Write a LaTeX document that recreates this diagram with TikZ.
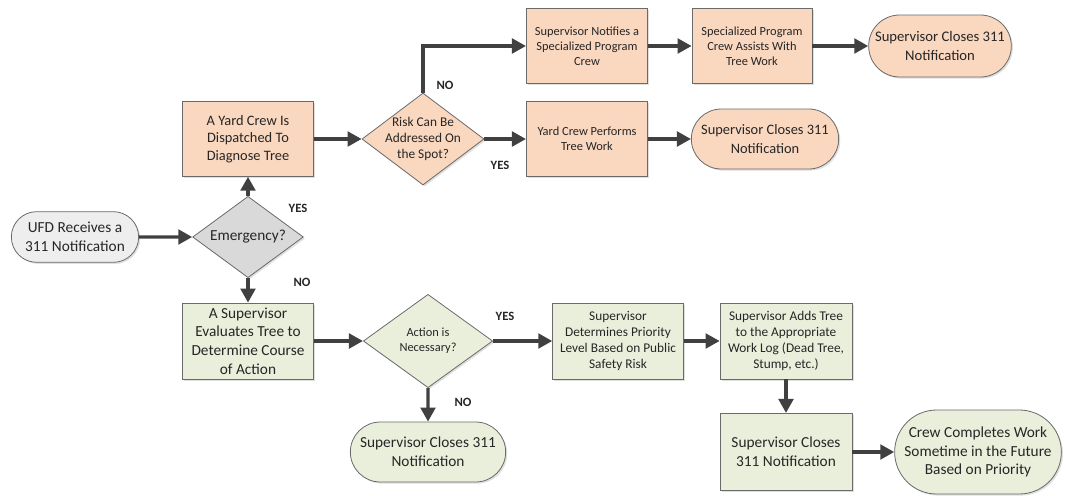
\documentclass[tikz,border=0pt]{standalone}
\usepackage{fontspec}
\setmainfont{Carlito}
\usetikzlibrary{shapes.geometric,shapes.misc,arrows.meta,shadows}

\definecolor{peach}{HTML}{FAD7BF}
\definecolor{sage}{HTML}{EAEFDC}
\definecolor{stone}{HTML}{D9D9D9}
\definecolor{pale}{HTML}{EEEEEE}
\definecolor{rim}{HTML}{6A6A6A}
\definecolor{ink}{HTML}{404040}

\newcommand{\fsm}{\fontsize{9.3}{11.3}\selectfont}
\newcommand{\fmd}{\fontsize{10}{12.2}\selectfont}
\newcommand{\flg}{\fontsize{11.5}{14}\selectfont}

\tikzset{
  base/.style={draw=rim, line width=0.6pt, align=center, inner sep=1pt, text=black!85,
    drop shadow={shadow xshift=1.2pt, shadow yshift=-1.2pt, opacity=0.25}},
  task/.style={base, rectangle, minimum width=98pt, minimum height=56pt},
  term/.style={base, rounded rectangle},
  choice/.style={base, diamond, inner sep=0pt},
  flow/.style={>={Triangle[length=10.5pt,width=11pt]}, line width=2.4pt, draw=ink},
  answer/.style={font=\bfseries\fontsize{9.5}{11}\selectfont, text=black!85}
}

\begin{document}
\begin{tikzpicture}[x=0.75pt,y=-0.75pt]
  \useasboundingbox (0,0) rectangle (1068,496);

  \node[term, fill=pale, minimum width=97.5pt, minimum height=38pt, font=\flg] (ufd) at (75,237)
    {UFD Receives a\\311 Notification};
  \node[choice, fill=stone, minimum width=83pt, minimum height=61pt,
    label={[font=\flg, text=black!85]center:Emergency?}] (emerg) at (248,237) {}
  edge[flow, <-] (ufd);

  % emergency branch
  \node[task, fill=peach, font=\fontsize{10.8}{13.2}\selectfont] (yard) at (248,139)
    {A Yard Crew Is\\Dispatched To\\Diagnose Tree}
  edge[flow, <-] (emerg);
  \node[choice, fill=peach, minimum width=91.5pt, minimum height=69pt,
    label={[font=\fmd, align=center, text=black!85]center:Risk Can Be\\Addressed On\\the Spot?}] (risk) at (423,139) {}
  edge[flow, <-] (yard);
  \node[task, fill=peach, minimum width=91pt, font=\fsm] (notify) at (587,46)
    {Supervisor Notifies a\\Specialized Program\\Crew};
  \draw[flow, ->] (risk.north) |- (notify.west);
  \node[task, fill=peach, minimum width=90pt, font=\fsm] (assist) at (752,46)
    {Specialized Program\\Crew Assists With\\Tree Work}
  edge[flow, <-] (notify);
  \node[term, fill=peach, minimum width=109pt, minimum height=46.5pt, font=\fontsize{11}{14.5}\selectfont] (closeA) at (940,46)
    {Supervisor Closes 311\\Notification}
  edge[flow, <-] (assist);
  \node[task, fill=peach, minimum width=91pt, font=\fsm] (perform) at (587,139)
    {Yard Crew Performs\\Tree Work}
  edge[flow, <-] (risk);
  \node[term, fill=peach, minimum width=112.5pt, minimum height=45pt, font=\fontsize{10.8}{14.5}\selectfont] (closeB) at (765,139)
    {Supervisor Closes 311\\Notification}
  edge[flow, <-] (perform);

  % routine branch
  \node[task, fill=sage, minimum height=57pt, font=\flg] (evaluate) at (248,341)
    {A Supervisor\\Evaluates Tree to\\Determine Course\\of Action}
  edge[flow, <-] (emerg);
  \node[choice, fill=sage, minimum width=97pt, minimum height=70pt,
    label={[font=\fsm, align=center, text=black!85]center:Action is\\Necessary?}] (action) at (428,341) {}
  edge[flow, <-] (evaluate);
  \node[term, fill=sage, minimum width=118.5pt, minimum height=45pt, font=\flg] (closeC) at (428,452)
    {Supervisor Closes 311\\Notification}
  edge[flow, <-] (action);
  \node[task, fill=sage, minimum height=57pt, font=\fmd] (priority) at (618,341)
    {Supervisor\\Determines Priority\\Level Based on Public\\Safety Risk}
  edge[flow, <-] (action);
  \node[task, fill=sage, minimum width=99pt, minimum height=57pt, font=\fmd] (worklog) at (786,341)
    {Supervisor Adds Tree\\to the Appropriate\\Work Log (Dead Tree,\\Stump, etc.)}
  edge[flow, <-] (priority);
  \node[task, fill=sage, minimum width=99pt, minimum height=58pt, font=\flg] (closeD) at (786,452)
    {Supervisor Closes\\311 Notification}
  edge[flow, <-] (worklog);
  \node[term, fill=sage, minimum width=123pt, minimum height=63pt, font=\flg] (crew) at (978,452)
    {Crew Completes Work\\Sometime in the Future\\Based on Priority}
  edge[flow, <-] (closeD);

  \node[answer] (emergYes) at (298,208) {YES};
  \node[answer] (emergNo) at (302,282) {NO};
  \node[answer] (riskNo) at (445,85) {NO};
  \node[answer] (riskYes) at (500,165) {YES};
  \node[answer] (actionYes) at (505,316) {YES};
  \node[answer] (actionNo) at (463,402) {NO};
\end{tikzpicture}
\end{document}
